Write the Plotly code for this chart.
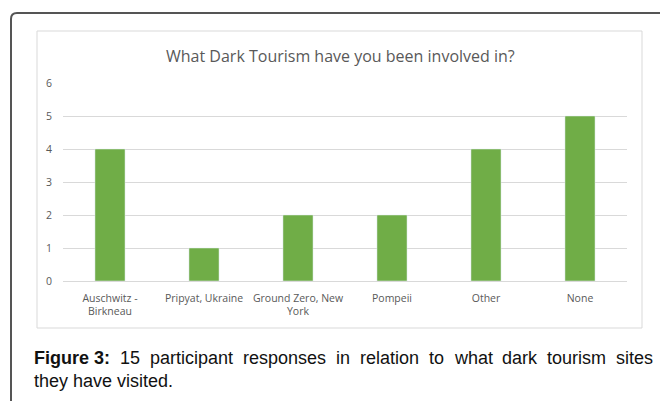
import plotly.graph_objects as go

categories = ["Auschwitz -<br>Birkneau", "Pripyat, Ukraine", "Ground Zero, New<br>York", "Pompeii", "Other", "None"]
values = [4, 1, 2, 2, 4, 5]
y_ticks = [0, 1, 2, 3, 4, 5, 6]
chart_title = "What Dark Tourism have you been involved in?"
caption_bold = "Figure 3:"
caption_words = ["15", "participant", "responses", "in", "relation", "to", "what", "dark", "tourism", "sites"]
caption_line2 = "they have visited."

W, H = 660, 401
L, R, T, B = 63, 627, 83, 281

def px(x):
    return (x - L) / (R - L)

def py(y):
    return (B - y) / (B - T)

fig = go.Figure(go.Bar(x=categories, y=values, marker_color="#70ad47", width=0.32))

CAP_SIZE = 18
cap_font = dict(size=CAP_SIZE, color="#111111", family="Liberation Sans")

# Arial/Liberation Sans advance widths (per 1000 em) for justifying line 1
AW = dict(a=556, b=556, c=500, d=556, e=556, h=556, i=222, k=500, l=222, m=833, n=556,
          o=556, p=556, r=333, s=500, t=278, u=556, w=722)
AW.update({"1": 556, "5": 556})

def text_w(s):
    return sum(AW.get(ch, 556) for ch in s) * CAP_SIZE / 1000

bold_w = (611 + 278 + 611 + 611 + 389 + 556 + 278 + 556 + 333) * CAP_SIZE / 1000
x_left, x_right = 32, 651
word_ws = [text_w(w) for w in caption_words]
gap = (x_right - x_left - bold_w - sum(word_ws)) / len(caption_words)

annotations = [
    dict(text=chart_title, xref="paper", yref="paper", x=px(340), y=py(56),
         xanchor="center", yanchor="middle",
         showarrow=False, font=dict(size=16, color="#595959", family="Open Sans")),
    dict(text=f"<b>{caption_bold}</b>", xref="paper", yref="paper",
         x=px(x_left), y=py(358), xanchor="left", yanchor="middle", showarrow=False, font=cap_font),
    dict(text=caption_line2, xref="paper", yref="paper",
         x=px(x_left), y=py(381), xanchor="left", yanchor="middle", showarrow=False, font=cap_font),
]
cur = x_left + bold_w + gap
for w, ww in zip(caption_words, word_ws):
    annotations.append(dict(text=w, xref="paper", yref="paper", x=px(cur), y=py(358),
                            xanchor="left", yanchor="middle", showarrow=False, font=cap_font))
    cur += ww + gap

fig.update_layout(
    width=W, height=H,
    margin=dict(l=L, r=W - R, t=T, b=H - B, pad=0),
    paper_bgcolor="white", plot_bgcolor="white",
    showlegend=False,
    font=dict(family="Open Sans", color="#595959"),
    xaxis=dict(showgrid=False, showline=True, linecolor="#d9d9d9", linewidth=1,
               tickfont=dict(size=10.5, color="#595959"), ticks="outside", ticklen=7,
               tickcolor="rgba(0,0,0,0)"),
    yaxis=dict(range=[0, 6], tickvals=y_ticks, showgrid=True, gridcolor="#d9d9d9",
               gridwidth=1, zeroline=False, showline=False,
               tickfont=dict(size=10.5, color="#595959"), ticks="outside", ticklen=8,
               tickcolor="rgba(0,0,0,0)"),
    shapes=[
        dict(type="path", xref="paper", yref="paper",
             path=f"M {px(11)},{py(420)} L {px(11)},{py(19)} Q {px(11)},{py(13)} {px(17)},{py(13)} L {px(670)},{py(13)}",
             line=dict(color="#555555", width=2), fillcolor="rgba(0,0,0,0)"),
        dict(type="rect", xref="paper", yref="paper",
             x0=px(37), x1=px(642), y0=py(31), y1=py(328),
             line=dict(color="#d9d9d9", width=1), fillcolor="rgba(0,0,0,0)", layer="below"),
    ],
    annotations=annotations,
)

fig.write_html("out.html")
